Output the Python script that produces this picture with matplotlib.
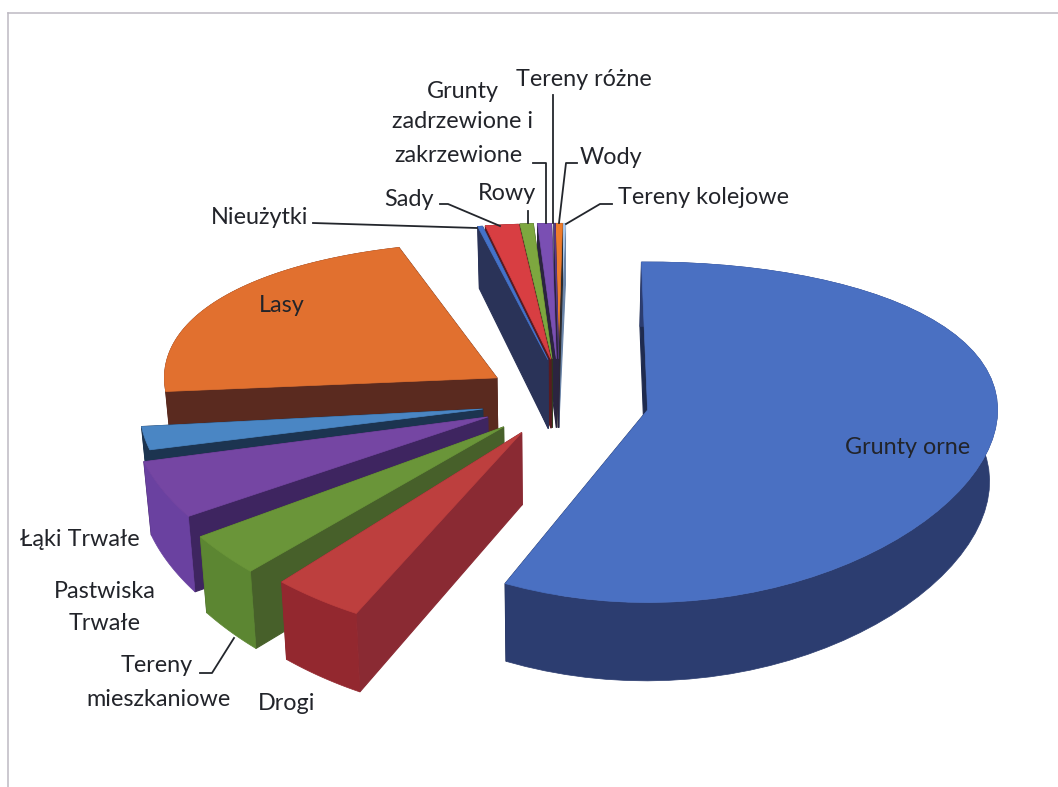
import numpy as np
import matplotlib
matplotlib.use("Agg")
import matplotlib.pyplot as plt
from matplotlib.patches import Polygon

plt.rcParams["font.family"] = ["Lato", "DejaVu Sans"]

# share of each land use, percent, clockwise from the top
categories = ["Grunty orne", "Drogi", "Tereny mieszkaniowe", "Pastwiska Trwałe", "Łąki Trwałe",
              "Lasy", "Nieużytki", "Sady", "Rowy", "Grunty zadrzewione i zakrzewione",
              "Tereny różne", "Wody", "Tereny kolejowe"]
values = [56.95, 3.95, 3.35, 5.0, 2.2, 21.65, 0.22, 1.53, 0.61, 0.64, 0.055, 0.36, 0.11]

# how far each slice is pulled out of the pie, and its own tweaks
explode = [0.27, 0.17, 0.193, 0.21, 0.21, 0.20, 0.31, 0.31, 0.31, 0.31, 0.31, 0.31, 0.31]
radius = [1.0, 1.04, 1.05, 1.015, 0.98, 0.95, 1, 1, 1, 1, 1, 1, 1]
gap_before = [0, 3.0, 2.3, 1.8, 0.6, 1.0, 5.56, 0, 0, 0, 0, 0, 0]
nudge_x = [0, 0, 0, 0, 0, 0, 14, 11, 5, 5, 5, 3, 2]
nudge_y = [-4, 4, 1, -2, -2, -9, 3, 3, 3, 3, 3, 3, 3]
top_colors = ["#4a70c2", "#bd3f3e", "#6a9539", "#7546a3", "#4a86c4", "#e1702f",
              "#4472c9", "#d83e42", "#7da73f", "#7a4fb3", "#5a3a8a", "#ee7b2c", "#a9c9ee"]
wall_colors = ["#1f2b4f", "#8a2a33", "#47602a", "#3e2560", "#1c3450", "#5a2a1f",
               "#2a3358", "#5a1a20", "#2e3a1c", "#2b2440", "#2b2440", "#2a2a2e", "#6a84a8"]
rim_colors = ["#2c3d70", "#93282f", "#5c8632", "#6a41a0", "#1c3450", "#5a2a1f",
              "#2a3358", "#5a1a20", "#2e3a1c", "#2b2440", "#2b2440", "#2a2a2e", "#6a84a8"]
draw_order = [12, 11, 10, 9, 8, 7, 6, 5, 4, 3, 2, 1, 0]

START_ANGLE = -91
CX, CY = 555, 405
A, B, K = 350, 165, 0.13


def project(u, v):
    return CX + A * u, CY + B * v / (1 - K * v)


def extrude(x, y, v):
    depth = 71 + 7 * v
    return x - 0.018 * (x - CX), y + depth


fig = plt.figure(figsize=(10.58, 7.87), dpi=100)
ax = fig.add_axes([0, 0, 1, 1])
ax.set_xlim(0, 1058)
ax.set_ylim(787, 0)
ax.axis("off")

# slice angles
spans = np.array(values) * 3.6
starts = []
a = START_ANGLE
for i, s in enumerate(spans):
    a += gap_before[i]
    starts.append(a)
    a += s

for n, i in enumerate(draw_order):
    th = np.radians(np.linspace(starts[i], starts[i] + spans[i], 60))
    mid = np.radians(starts[i] + spans[i] / 2)
    ou, ov = explode[i] * np.cos(mid), explode[i] * np.sin(mid)
    us, vs = ou + radius[i] * np.cos(th), ov + radius[i] * np.sin(th)
    ax_x, ax_y = project(ou, ov)
    px, py = project(us, vs)
    bx, by = extrude(px, py, vs)
    abx, aby = extrude(ax_x, ax_y, ov)
    ox, oy = nudge_x[i], nudge_y[i]
    z = 2 + n * 0.01
    # cut faces
    for k in (0, -1):
        ax.add_patch(Polygon([(ax_x + ox, ax_y + oy), (px[k] + ox, py[k] + oy),
                              (bx[k] + ox, by[k] + oy), (abx + ox, aby + oy)],
                             fc=wall_colors[i], ec=wall_colors[i], lw=0.8, zorder=z))
    # outer rim
    ax.add_patch(Polygon(np.r_[np.c_[px + ox, py + oy], np.c_[bx + ox, by + oy][::-1]],
                         fc=rim_colors[i], ec=rim_colors[i], lw=0.5, zorder=z))
    ax.add_patch(Polygon(np.r_[[(ax_x + ox, ax_y + oy)], np.c_[px + ox, py + oy]],
                         fc=top_colors[i], ec=top_colors[i], lw=0.5, zorder=z))

# frame of the pasted chart
ax.plot([8, 8], [787, 13], color="#bdb9c2", lw=1.1)
ax.plot([8, 1058], [13, 13], color="#bdb9c2", lw=1.1)

fs = 16.8
tc = "#22242a"
labels = [("Grunty orne", 908, 447), ("Lasy", 282, 306), ("Łąki Trwałe", 80, 539),
          ("Pastwiska", 105, 591), ("Trwałe", 105, 624), ("Tereny", 157, 665),
          ("mieszkaniowe", 158, 699), ("Drogi", 287, 704), ("Nieużytki", 260, 218),
          ("Sady", 409, 200), ("Rowy", 507, 194), ("Grunty", 463, 92),
          ("zadrzewione i", 463, 122), ("zakrzewione", 458, 155), ("Tereny różne", 584, 80),
          ("Wody", 611, 157), ("Tereny kolejowe", 703, 197)]
for t, x, y in labels:
    ax.text(x, y, t, ha="center", va="center", fontsize=fs, color=tc, zorder=5)

leaders = [[(313, 223), (477, 228)], [(440, 204), (448, 204), (500, 226)], [(528, 211), (528, 223)],
           [(533, 163), (546, 163), (546, 223)], [(553, 95), (553, 223)],
           [(577, 163), (566, 163), (559, 223)], [(612, 204), (600, 204), (566, 224)],
           [(200, 673), (212, 673), (234, 638)]]
for pts in leaders:
    ax.plot(*zip(*pts), color="#23262c", lw=1.3, zorder=4)

fig.savefig("out.png", dpi=100)
